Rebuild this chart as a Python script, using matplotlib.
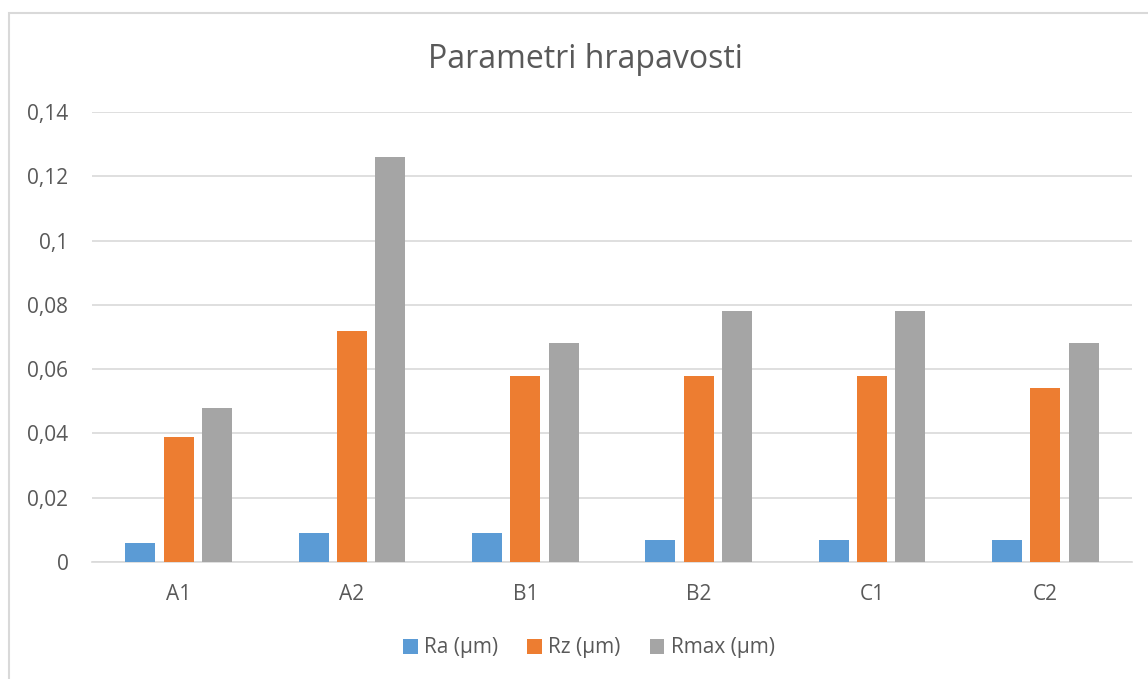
import matplotlib
matplotlib.use("Agg")
import matplotlib.pyplot as plt
import numpy as np
from matplotlib.patches import Rectangle
from matplotlib.ticker import FuncFormatter, MultipleLocator

categories = ["A1", "A2", "B1", "B2", "C1", "C2"]
ra = [0.006, 0.009, 0.009, 0.007, 0.007, 0.007]
rz = [0.039, 0.072, 0.058, 0.058, 0.058, 0.054]
rmax = [0.048, 0.126, 0.068, 0.078, 0.078, 0.068]
series_names = ["Ra (µm)", "Rz (µm)", "Rmax (µm)"]
colors = ["#5B9BD5", "#ED7D31", "#A5A5A5"]

plt.rcParams['font.family'] = ['Open Sans', 'DejaVu Sans']

W, H = 1148, 679
fig = plt.figure(figsize=(W / 100, H / 100), dpi=100)
fig.patches.append(Rectangle((9 / W, -0.1), 1.2, 1 - 13 / H + 0.1, transform=fig.transFigure,
                             fill=False, edgecolor="#D9D9D9", linewidth=1.5))
ax = fig.add_axes([92 / W, 1 - 562 / H, (1132 - 92) / W, (562 - 112) / H])

x = np.arange(len(categories))
bw = 0.173
step = 0.222
for i, (vals, name, c) in enumerate(zip([ra, rz, rmax], series_names, colors)):
    ax.bar(x + (i - 1) * step, vals, width=bw, color=c, label=name, zorder=3)

ax.set_xlim(-0.5, len(categories) - 0.5)
ax.set_ylim(0, 0.14)
ax.yaxis.set_major_locator(MultipleLocator(0.02))
ax.yaxis.set_major_formatter(FuncFormatter(lambda v, p: "0" if abs(v) < 1e-9 else (f"{v:.2f}".rstrip("0").replace(".", ","))))
ax.set_xticks(x)
ax.set_xticklabels(categories)
ax.grid(axis="y", color="#D9D9D9", linewidth=1.2, zorder=0)
for s in ["top", "right", "left"]:
    ax.spines[s].set_visible(False)
ax.spines["bottom"].set_color("#D9D9D9")
ax.spines["bottom"].set_linewidth(1.2)
ax.tick_params(axis="both", length=0, labelsize=15, colors="#595959")
ax.tick_params(axis="y", pad=17)
ax.tick_params(axis="x", pad=16)

fig.text(585 / W, 1 - 60 / H, "Parametri hrapavosti", ha="center", va="center",
         fontsize=23, color="#595959")

handles, labels = ax.get_legend_handles_labels()
fig.legend(handles, labels, loc="center", bbox_to_anchor=(589 / W, 1 - 648 / H), ncol=3,
           frameon=False, fontsize=15, handlelength=0.7, handleheight=0.7,
           handletextpad=0.3, columnspacing=1.4, labelcolor="#595959")

fig.savefig("out.png", dpi=100)
